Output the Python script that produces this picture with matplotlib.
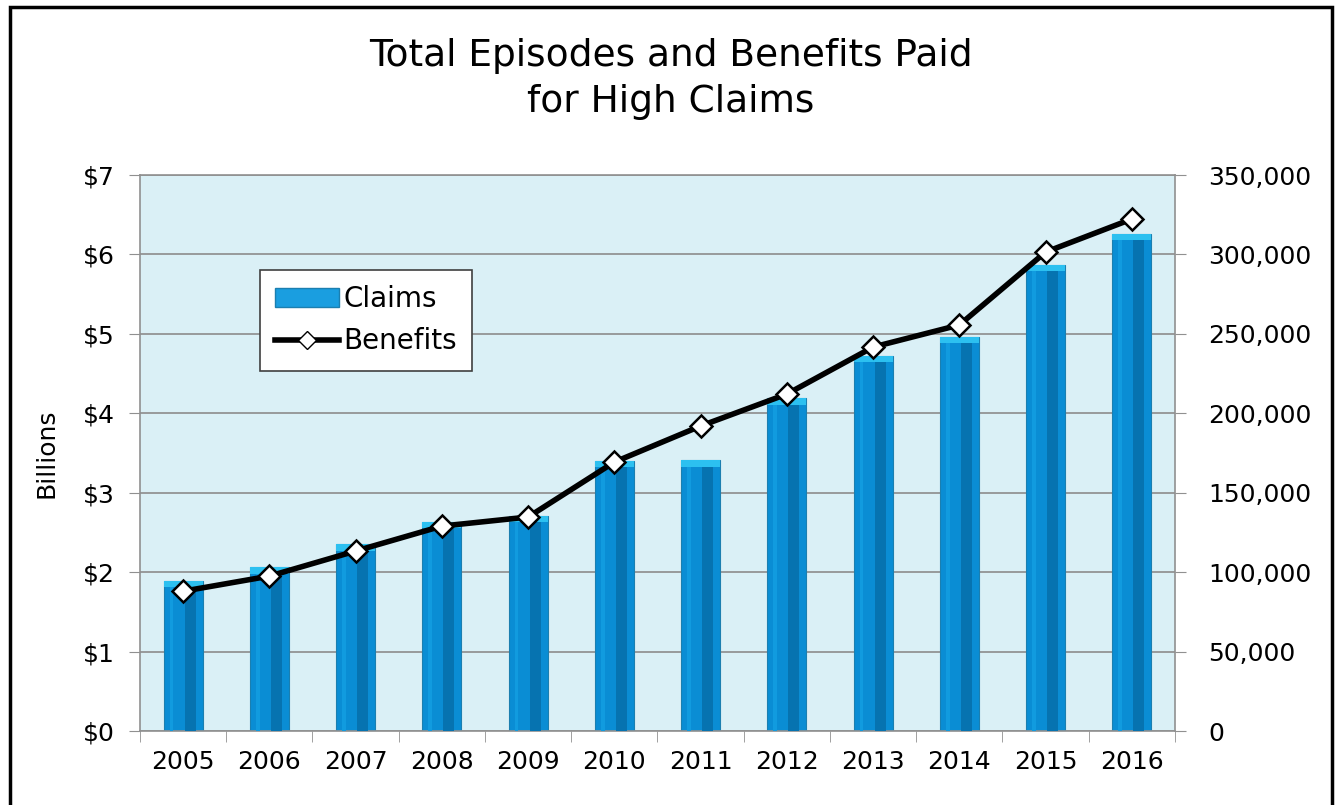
import matplotlib.pyplot as plt
import matplotlib.patches as mpatches
from matplotlib.lines import Line2D
from matplotlib.ticker import FuncFormatter

# data
years = ["2005", "2006", "2007", "2008", "2009", "2010",
         "2011", "2012", "2013", "2014", "2015", "2016"]
claims = [1.89, 2.06, 2.35, 2.63, 2.71, 3.40, 3.41, 4.19, 4.72, 4.96, 5.87, 6.26]
benefits = [88000, 97500, 113300, 129000, 134700, 169300,
            192000, 212100, 241700, 255600, 301500, 322300]

plt.rcParams['font.family'] = ['DejaVu Sans']

fig = plt.figure(figsize=(13.41, 8.05), dpi=100)
ax = fig.add_axes([0.1044, 0.0919, 0.7718, 0.6907])
ax.set_facecolor('#daf0f6')

x = list(range(len(years)))
bw = 0.45

# bars with a simple two-tone "3D" look
ax.bar(x, claims, width=bw, color='#0a8dd4', edgecolor='#1b7fb0', linewidth=0.8, zorder=2)
ax.bar([i + bw * 0.18 for i in x], claims, width=bw * 0.28, color='#0673b0', linewidth=0, zorder=3)
ax.bar([i - bw * 0.3 for i in x], claims, width=bw * 0.1, color='#119bdf', linewidth=0, zorder=3)
caps = [c - 0.08 for c in claims]
ax.bar(x, [0.08] * len(x), bottom=caps, width=bw, color='#2cc0f0', linewidth=0, zorder=3)

ax.set_xlim(-0.5, len(years) - 0.5)
ax.set_ylim(0, 7)
ax.set_yticks(range(0, 8))
ax.yaxis.set_major_formatter(FuncFormatter(lambda v, p: "${:.0f}".format(v)))
ax.set_xticks(x)
ax.set_xticklabels(years)
ax.set_xticks([i - 0.5 for i in range(len(years) + 1)], minor=True)
ax.tick_params(axis='x', which='major', length=0, labelsize=18, pad=14)
ax.tick_params(axis='x', which='minor', length=8, color='#909090', direction='out')
ax.tick_params(axis='y', length=8, color='#909090', labelsize=18, pad=10)
ax.grid(axis='y', color='#8c8c8c', linewidth=1.2, zorder=1)
ax.set_axisbelow(True)
for s in ax.spines.values():
    s.set_color('#909090')
    s.set_linewidth(1.2)
ax.set_ylabel("Billions", fontsize=18, labelpad=18)

ax2 = ax.twinx()
ax2.plot(x, benefits, color='black', linewidth=4, marker='D', markersize=11,
         markerfacecolor='white', markeredgecolor='black', markeredgewidth=1.8, zorder=5)
ax2.set_ylim(0, 350000)
ax2.set_yticks(range(0, 350001, 50000))
ax2.yaxis.set_major_formatter(FuncFormatter(lambda v, p: "{:,.0f}".format(v)))
ax2.tick_params(axis='y', length=8, color='#909090', labelsize=18, pad=16)
for s in ax2.spines.values():
    s.set_visible(False)

handles = [mpatches.Patch(facecolor='#1a9ee0', edgecolor='#1b7fb0'),
           Line2D([], [], color='black', linewidth=4, marker='D', markersize=9,
                  markerfacecolor='white', markeredgecolor='black')]
leg = ax2.legend(handles, ["Claims", "Benefits"], loc='upper left',
                 bbox_to_anchor=(0.116, 0.829), borderaxespad=0, fontsize=20,
                 frameon=True, fancybox=False, framealpha=1, facecolor='white',
                 edgecolor='#404040', handlelength=2.3, handletextpad=0.15,
                 borderpad=0.55, labelspacing=0.5)
leg.get_frame().set_linewidth(1.2)

fig.suptitle("Total Episodes and Benefits Paid\nfor High Claims", fontsize=27, y=0.953,
             linespacing=1.35)

fig.add_artist(mpatches.Rectangle((10 / 1341, -0.02), 1322 / 1341, 1 - 7 / 805 + 0.02,
                                  transform=fig.transFigure, fill=False,
                                  edgecolor='black', linewidth=2.5))

fig.savefig("out.png", dpi=100)
